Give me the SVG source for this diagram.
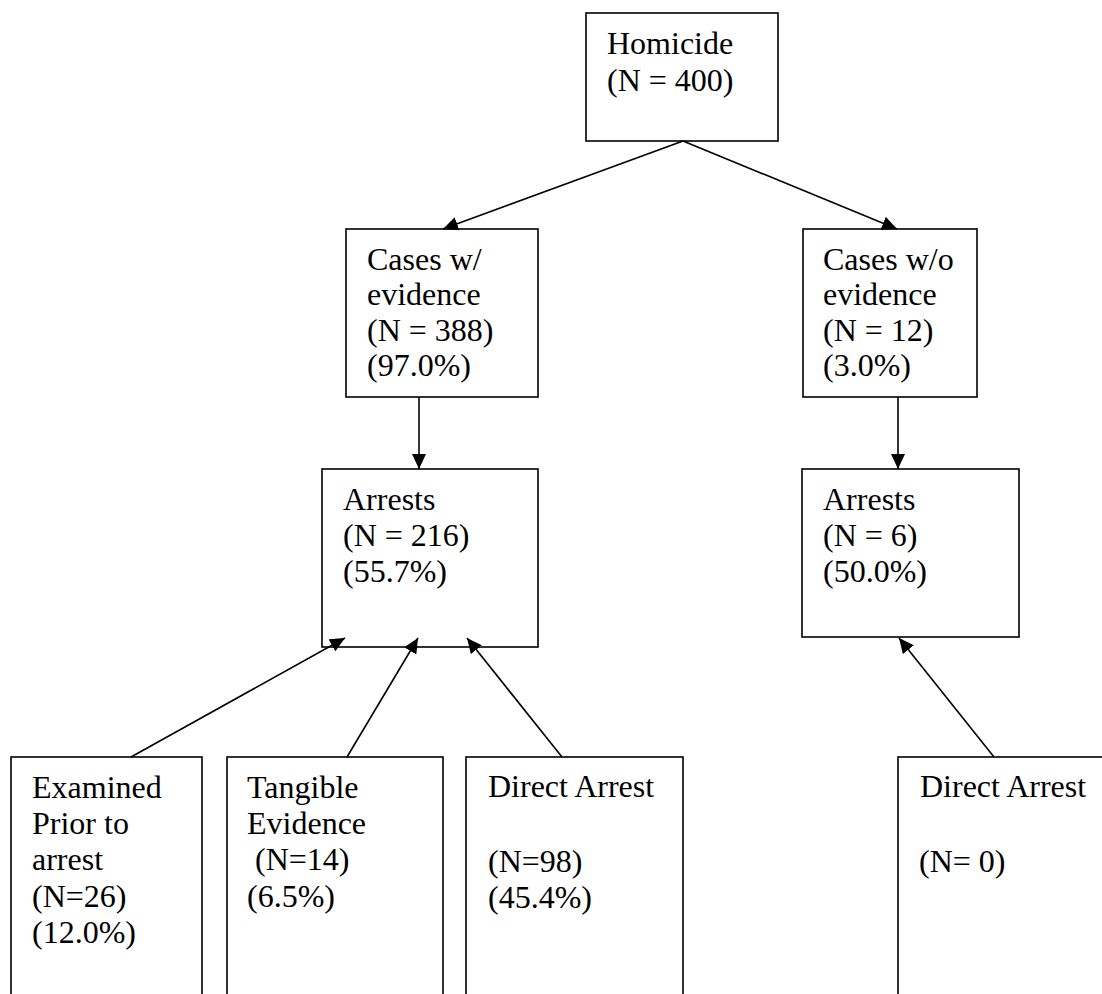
<svg xmlns="http://www.w3.org/2000/svg" width="1102" height="994" viewBox="0 0 1102 994">
<defs>
<marker id="ah" markerUnits="userSpaceOnUse" markerWidth="16" markerHeight="14" refX="15" refY="7" orient="auto">
<path d="M0,0 L15,7 L0,14 Z" fill="#000"/>
</marker>
<style>
.box{fill:#fff;stroke:#000;stroke-width:1.6}
.t{font-family:"Liberation Serif","Times New Roman",serif;font-size:32px;fill:#000}
.c{stroke:#000;stroke-width:1.6;fill:none;marker-end:url(#ah)}
</style>
</defs>
<rect width="1102" height="994" fill="#fff"/>
<g id="homicide">
<rect class="box" x="586" y="13" width="192" height="128"/>
<text class="t" x="607" y="54">Homicide</text>
<text class="t" x="607" y="91">(N = 400)</text>
</g>
<g id="cases-with">
<rect class="box" x="346" y="229" width="192" height="168"/>
<text class="t" x="367" y="270">Cases w/</text>
<text class="t" x="367" y="305">evidence</text>
<text class="t" x="367" y="341">(N = 388)</text>
<text class="t" x="367" y="376">(97.0%)</text>
</g>
<g id="cases-without">
<rect class="box" x="803" y="229" width="174" height="168"/>
<text class="t" x="823" y="270">Cases w/o</text>
<text class="t" x="823" y="305">evidence</text>
<text class="t" x="823" y="341">(N = 12)</text>
<text class="t" x="823" y="376">(3.0%)</text>
</g>
<g id="arrests-left">
<rect class="box" x="322" y="469" width="216" height="178"/>
<text class="t" x="343" y="510">Arrests</text>
<text class="t" x="343" y="546">(N = 216)</text>
<text class="t" x="343" y="582">(55.7%)</text>
</g>
<g id="arrests-right">
<rect class="box" x="802" y="469" width="217" height="168"/>
<text class="t" x="823" y="510">Arrests</text>
<text class="t" x="823" y="546">(N = 6)</text>
<text class="t" x="823" y="582">(50.0%)</text>
</g>
<g id="examined">
<rect class="box" x="11" y="757" width="191" height="260"/>
<text class="t" x="32" y="798">Examined</text>
<text class="t" x="32" y="834">Prior to</text>
<text class="t" x="32" y="870">arrest</text>
<text class="t" x="32" y="907">(N=26)</text>
<text class="t" x="32" y="943">(12.0%)</text>
</g>
<g id="tangible">
<rect class="box" x="227" y="757" width="216" height="260"/>
<text class="t" x="247" y="798">Tangible</text>
<text class="t" x="247" y="834">Evidence</text>
<text class="t" x="247" y="870" xml:space="preserve"> (N=14)</text>
<text class="t" x="247" y="907">(6.5%)</text>
</g>
<g id="direct-left">
<rect class="box" x="466" y="757" width="217" height="260"/>
<text class="t" x="488" y="797">Direct Arrest</text>
<text class="t" x="488" y="872">(N=98)</text>
<text class="t" x="488" y="908">(45.4%)</text>
</g>
<g id="direct-right">
<rect class="box" x="898" y="757" width="230" height="260"/>
<text class="t" x="920" y="797">Direct Arrest</text>
<text class="t" x="919" y="872">(N= 0)</text>
</g>
<g id="connectors">
<line class="c" x1="683" y1="141" x2="443" y2="229"/>
<line class="c" x1="683" y1="141" x2="897" y2="229"/>
<line class="c" x1="419" y1="397" x2="419" y2="469"/>
<line class="c" x1="898" y1="397" x2="898" y2="469"/>
<line class="c" x1="131" y1="757" x2="345" y2="638"/>
<line class="c" x1="347" y1="757" x2="418" y2="638"/>
<line class="c" x1="562" y1="757" x2="467" y2="638"/>
<line class="c" x1="994" y1="757" x2="899" y2="638"/>
</g>
</svg>
